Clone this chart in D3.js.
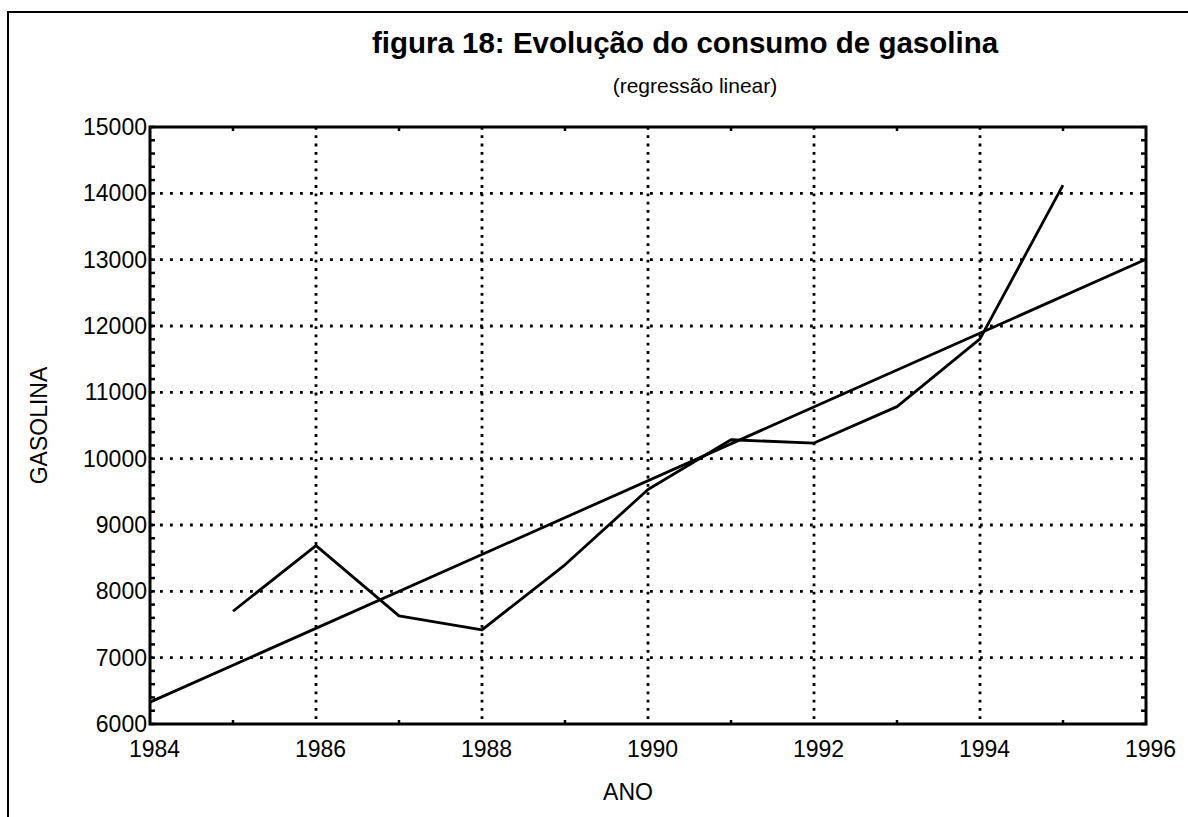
<!DOCTYPE html>
<html>
<head>
<meta charset="utf-8">
<script src="https://cdn.jsdelivr.net/npm/d3@7"></script>
<style>
  html, body { margin: 0; padding: 0; background: #fff; }
  svg { display: block; font-family: "Liberation Sans", Arial, sans-serif; }
</style>
</head>
<body>
<svg id="chart" width="1188" height="817"></svg>
<script>
// ---- data ----
const years = [1985, 1986, 1987, 1988, 1989, 1990, 1991, 1992, 1993, 1994, 1995];
const gasolina = [7700, 8690, 7630, 7420, 8400, 9535, 10285, 10235, 10785, 11805, 14125];
const regressionYears = [1984, 1996];
const regressionValues = [6330, 13005];
const xTickValues = [1984, 1986, 1988, 1990, 1992, 1994, 1996];
const yTickValues = [6000, 7000, 8000, 9000, 10000, 11000, 12000, 13000, 14000, 15000];
const titleText = "figura 18: Evolução do consumo de gasolina";
const subtitleText = "(regressão linear)";
const xLabel = "ANO";
const yLabel = "GASOLINA";

// ---- layout ----
const svg = d3.select("#chart");
const L = 150, R = 1146, T = 127, B = 724;
const x = d3.scaleLinear().domain([1984, 1996]).range([L, R]);
const y = d3.scaleLinear().domain([6000, 15000]).range([B, T]);

// outer frame (top + left)
svg.append("path")
  .attr("d", `M8,817 L8,12 L1188,12`)
  .attr("fill", "none").attr("stroke", "#000").attr("stroke-width", 2);

// titles
svg.append("text").attr("x", 685).attr("y", 53).attr("text-anchor", "middle")
  .attr("font-size", 29.5).attr("font-weight", "bold").text(titleText);
svg.append("text").attr("x", 695).attr("y", 93).attr("text-anchor", "middle")
  .attr("font-size", 21).text(subtitleText);

// grid
const g = svg.append("g");
g.selectAll(".vgrid").data(xTickValues.filter(d => d > 1984 && d < 1996)).enter()
  .append("line").attr("class", "vgrid")
  .attr("x1", d => x(d)).attr("x2", d => x(d)).attr("y1", T).attr("y2", B)
  .attr("stroke", "#000").attr("stroke-width", 2.8).attr("stroke-dasharray", "2.8,5.5");
g.selectAll(".hgrid").data(yTickValues.filter(d => d > 6000 && d < 15000)).enter()
  .append("line").attr("class", "hgrid")
  .attr("x1", L).attr("x2", R).attr("y1", d => y(d)).attr("y2", d => y(d))
  .attr("stroke", "#000").attr("stroke-width", 2.8).attr("stroke-dasharray", "2.8,7.2");

// axes via d3
const minorY = d3.range(6000, 15001, 200);
const minorX = d3.range(1985, 1996, 2);

const axL = svg.append("g").attr("transform", `translate(${L},0)`)
  .call(d3.axisLeft(y).tickValues(yTickValues).tickFormat(d3.format("d")).tickSize(0).tickPadding(3));
axL.select(".domain").remove();
axL.selectAll("text").attr("font-size", 23).attr("fill", "#000").attr("font-family", "Liberation Sans, Arial, sans-serif");

const axB = svg.append("g").attr("transform", `translate(0,${B})`)
  .call(d3.axisBottom(x).tickValues(xTickValues).tickFormat(d3.format("d")).tickSize(0).tickPadding(17));
axB.select(".domain").remove();
axB.selectAll("text").attr("font-size", 23).attr("fill", "#000").attr("font-family", "Liberation Sans, Arial, sans-serif")
  .attr("dx", 4);

// minor ticks (inward) on all four sides
const tk = svg.append("g").attr("stroke", "#000").attr("stroke-width", 2.5);
tk.selectAll(".tl").data(minorY).enter().append("line")
  .attr("x1", L).attr("x2", L + 5).attr("y1", d => y(d)).attr("y2", d => y(d));
tk.selectAll(".tr").data(minorY).enter().append("line")
  .attr("x1", R).attr("x2", R - 5).attr("y1", d => y(d)).attr("y2", d => y(d));
tk.selectAll(".tb").data(minorX).enter().append("line")
  .attr("x1", d => x(d)).attr("x2", d => x(d)).attr("y1", B).attr("y2", B - 4);
tk.selectAll(".tt").data(minorX).enter().append("line")
  .attr("x1", d => x(d)).attr("x2", d => x(d)).attr("y1", T).attr("y2", T + 4);

// plot frame
svg.append("rect").attr("x", L).attr("y", T).attr("width", R - L).attr("height", B - T)
  .attr("fill", "none").attr("stroke", "#000").attr("stroke-width", 3);

// lines
const line = d3.line().x(d => x(d[0])).y(d => y(d[1]));
svg.append("path").datum(years.map((yr, i) => [yr, gasolina[i]]))
  .attr("d", line).attr("fill", "none").attr("stroke", "#000").attr("stroke-width", 2.8)
  .attr("stroke-linejoin", "round");
svg.append("path").datum(regressionYears.map((yr, i) => [yr, regressionValues[i]]))
  .attr("d", line).attr("fill", "none").attr("stroke", "#000").attr("stroke-width", 2.8);

// axis labels
svg.append("text").attr("x", 628).attr("y", 800).attr("text-anchor", "middle")
  .attr("font-size", 23).text(xLabel);
svg.append("text").attr("transform", `translate(47,${(T + B) / 2}) rotate(-90)`)
  .attr("text-anchor", "middle").attr("font-size", 23).text(yLabel);
</script>
</body>
</html>
